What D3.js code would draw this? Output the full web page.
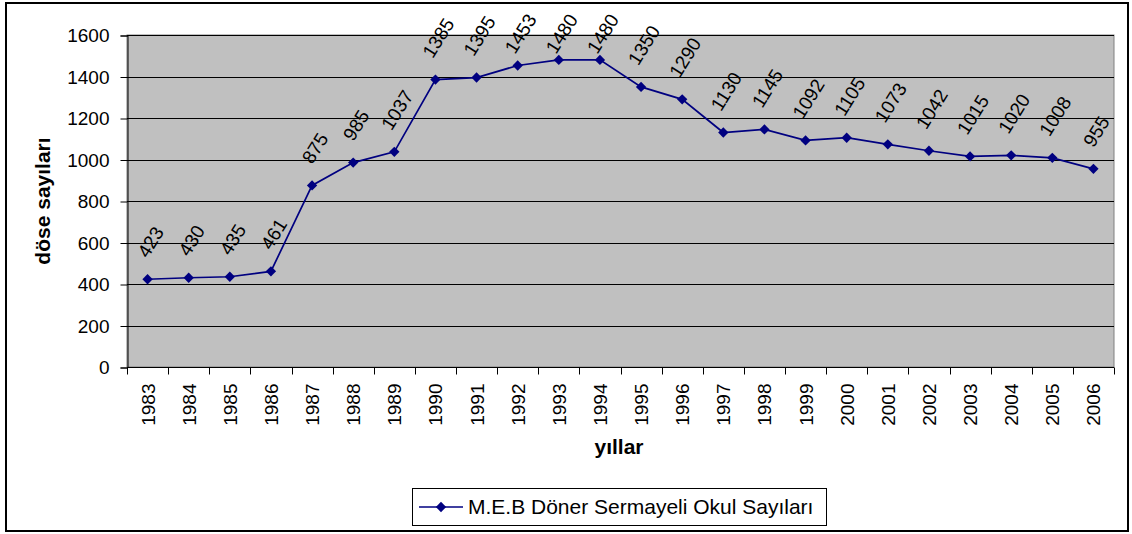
<!DOCTYPE html>
<html>
<head>
<meta charset="utf-8">
<script src="https://cdn.jsdelivr.net/npm/d3@7"></script>
<style>
  body { margin: 0; background: #fff; }
  svg text { font-family: "Liberation Sans", Arial, sans-serif; fill: #000; }
</style>
</head>
<body>
<div id="chart"></div>
<script>
// data
const years = ["1983","1984","1985","1986","1987","1988","1989","1990","1991","1992","1993","1994",
               "1995","1996","1997","1998","1999","2000","2001","2002","2003","2004","2005","2006"];
const counts = [423,430,435,461,875,985,1037,1385,1395,1453,1480,1480,1350,1290,1130,1145,1092,1105,1073,1042,1015,1020,1008,955];
const yTicks = [0,200,400,600,800,1000,1200,1400,1600];
const seriesName = "M.E.B Döner Sermayeli Okul Sayıları";
const yTitle = "döse sayıları";
const xTitle = "yıllar";

const W = 1132, H = 534;
const plot = {left: 127, right: 1114, top: 35, bottom: 367};
const fs = 19;      // digits
const fsText = 21;  // words

const svg = d3.select("#chart").append("svg")
  .attr("width", W).attr("height", H);

// outer frame
svg.append("rect")
  .attr("x", 6).attr("y", 3).attr("width", 1122).attr("height", 528)
  .attr("fill", "#fff").attr("stroke", "#000").attr("stroke-width", 2);

const x = d3.scaleBand().domain(years).range([plot.left, plot.right]);
const y = d3.scaleLinear().domain([0, 1600]).range([plot.bottom, plot.top]);

// plot background
svg.append("rect")
  .attr("x", plot.left).attr("y", plot.top)
  .attr("width", plot.right - plot.left).attr("height", plot.bottom - plot.top)
  .attr("fill", "#c0c0c0").attr("stroke", "#808080").attr("stroke-width", 1);

// gridlines
svg.append("g").selectAll("line").data(yTicks.filter(d => d > 0)).enter().append("line")
  .attr("x1", plot.left).attr("x2", plot.right)
  .attr("y1", d => Math.round(y(d)) + 0.5).attr("y2", d => Math.round(y(d)) + 0.5)
  .attr("stroke", "#000").attr("stroke-width", 1);

// y axis
const yAxis = svg.append("g")
  .attr("transform", "translate(" + (plot.left + 0.5) + ",0.5)")
  .call(d3.axisLeft(y).tickValues(yTicks).tickSize(7).tickPadding(11).tickFormat(d3.format("d")));
yAxis.select(".domain").attr("stroke", "#000");
yAxis.selectAll(".tick line").attr("stroke", "#000");
yAxis.selectAll(".tick text").style("font-size", fs + "px").attr("fill", "#000");

// x axis (ticks between categories)
const xAxis = svg.append("g")
  .attr("transform", "translate(0," + (plot.bottom + 0.5) + ")");
xAxis.append("line")
  .attr("x1", plot.left).attr("x2", plot.right)
  .attr("stroke", "#000");
const bounds = years.map(d => x(d)).concat([plot.right]);
xAxis.selectAll("line.tk").data(bounds).enter().append("line")
  .attr("class", "tk")
  .attr("x1", d => Math.round(d) + 0.5).attr("x2", d => Math.round(d) + 0.5)
  .attr("y1", 0).attr("y2", 7).attr("stroke", "#000");
xAxis.selectAll("text").data(years).enter().append("text")
  .attr("transform", d => "translate(" + (x(d) + x.bandwidth() / 2 + 7) + ",16) rotate(-90)")
  .attr("text-anchor", "end")
  .style("font-size", fs + "px")
  .text(d => d);

// axis titles
svg.append("text")
  .attr("transform", "translate(50,201) rotate(-90)")
  .attr("text-anchor", "middle")
  .style("font-size", fsText + "px").style("font-weight", "bold")
  .text(yTitle);
svg.append("text")
  .attr("x", 619).attr("y", 454)
  .attr("text-anchor", "middle")
  .style("font-size", fsText + "px").style("font-weight", "bold")
  .text(xTitle);

// series
const cx = (d, i) => x(years[i]) + x.bandwidth() / 2;
const line = d3.line().x(cx).y(d => y(d));
svg.append("path")
  .attr("d", line(counts))
  .attr("fill", "none").attr("stroke", "#000080").attr("stroke-width", 1.7);

const diamond = d3.symbol().type(d3.symbolDiamond2).size(68);
svg.append("g").selectAll("path").data(counts).enter().append("path")
  .attr("d", diamond)
  .attr("transform", (d, i) => "translate(" + cx(d, i) + "," + y(d) + ")")
  .attr("fill", "#000080");

// data labels, rotated; kept inside the chart frame like Excel does
const ang = 58, rad = ang * Math.PI / 180;
const labels = svg.append("g").selectAll("text").data(counts).enter().append("text")
  .attr("text-anchor", "middle")
  .attr("dominant-baseline", "central")
  .style("font-size", fs + "px")
  .text(d => d);
labels.attr("transform", function (d, i) {
  const L = this.getComputedTextLength();
  const half = (L * Math.sin(rad) + fs * 0.75 * Math.cos(rad)) / 2;
  const cy = Math.max(y(d) - 20 - half, 12 + half);
  return "translate(" + (cx(d, i) + 3) + "," + cy + ") rotate(" + (-ang) + ")";
});

// legend
const lg = svg.append("g");
lg.append("rect")
  .attr("x", 412.5).attr("y", 488.5).attr("width", 414).attr("height", 37)
  .attr("fill", "#fff").attr("stroke", "#000").attr("stroke-width", 1);
lg.append("line")
  .attr("x1", 419).attr("x2", 463).attr("y1", 507).attr("y2", 507)
  .attr("stroke", "#000080").attr("stroke-width", 1.7);
lg.append("path")
  .attr("d", diamond)
  .attr("transform", "translate(441,507)")
  .attr("fill", "#000080");
lg.append("text")
  .attr("x", 468).attr("y", 514)
  .style("font-size", fsText + "px")
  .text(seriesName);
</script>
</body>
</html>
